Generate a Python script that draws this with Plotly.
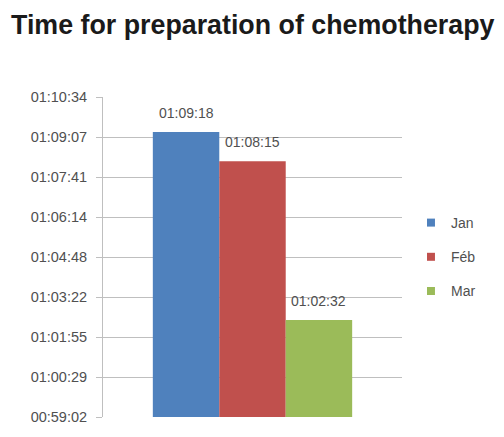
import plotly.graph_objects as go

months = ["Jan", "Féb", "Mar"]
values_hms = ["01:09:18", "01:08:15", "01:02:32"]
colors = ["#4F81BD", "#C0504D", "#9BBB59"]
tick_labels = ["00:59:02", "01:00:29", "01:01:55", "01:03:22", "01:04:48",
               "01:06:14", "01:07:41", "01:09:07", "01:10:34"]

def to_sec(s):
    h, m, sec = [int(p) for p in s.split(":")]
    return h * 3600 + m * 60 + sec

# Excel axis: min 0.041 day, step 0.001 day
axis_min = 0.041 * 86400
axis_step = 0.001 * 86400
tick_vals = [axis_min + i * axis_step for i in range(len(tick_labels))]

fig = go.Figure()
for i, (m, v, c) in enumerate(zip(months, values_hms, colors)):
    fig.add_trace(go.Bar(
        x=[i], y=[to_sec(v)], width=1, name=m, marker_color=c,
        marker_line_width=0, showlegend=False,
    ))
    fig.add_annotation(
        x=i, y=to_sec(v), text=v, showarrow=False, yanchor="bottom",
        yshift=9, font=dict(size=14, color="#505050", family="Liberation Sans"),
    )
# legend entries with small square swatches
for m, c in zip(months, colors):
    fig.add_trace(go.Scatter(
        x=[None], y=[None], mode="markers", name=m, legendgroup=m,
        marker=dict(symbol="square", size=8, color=c),
    ))

fig.update_layout(
    width=504, height=437,
    paper_bgcolor="white", plot_bgcolor="white",
    margin=dict(l=95, r=110, t=89, b=28),
    barmode="overlay",
    title=dict(text="<b>Time for preparation of chemotherapy</b>",
               x=0.006, xanchor="left", y=0.963, yanchor="middle",
               font=dict(family="Liberation Sans", size=26.8, color="#1a1a1a")),
    font=dict(family="Liberation Sans", color="#505050"),
    showlegend=True,
    legend=dict(x=1.03, xanchor="left", y=0.5, yanchor="middle",
                font=dict(size=14, color="#505050"), tracegroupgap=13,
                itemwidth=30, bgcolor="rgba(0,0,0,0)"),
)
fig.update_yaxes(
    range=[tick_vals[0], tick_vals[-1]],
    tickvals=tick_vals, ticktext=tick_labels,
    showgrid=True, gridcolor="#BFBFBF", gridwidth=1,
    ticks="outside", ticklen=6, tickcolor="#BFBFBF",
    showline=True, linecolor="#BFBFBF", linewidth=1,
    tickfont=dict(size=14.5, color="#505050"), ticklabelstandoff=6,
    zeroline=False,
)
fig.update_xaxes(range=[-1.25, 3.25], showticklabels=False, showline=False,
                 ticks="", showgrid=False, zeroline=False)

fig.write_html("out.html")
